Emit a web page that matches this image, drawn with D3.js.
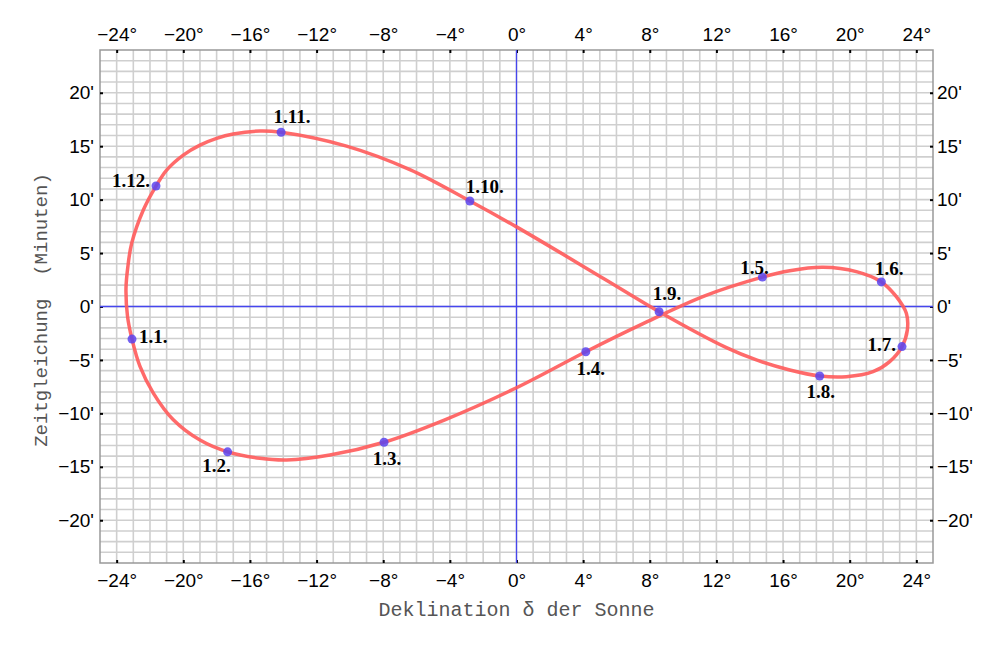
<!DOCTYPE html>
<html>
<head>
<meta charset="utf-8">
<script src="https://cdn.jsdelivr.net/npm/d3@7"></script>
<style>
  body { margin: 0; background: #fff; }
  svg { display: block; }
</style>
</head>
<body>
<svg width="1000" height="649"></svg>
<script>
// analemma, going round from 1 Jan
const curveDecl = [-23.08, -22.6, -21.8, -20.6, -19.0, -17.34, -15.4, -13.8, -11.2, -7.95,
  -4.3, 0, 4.16, 7.6, 11.3, 14.76, 16.4, 18.4, 20.4, 21.9, 22.8, 23.4, 23.46, 23.14,
  22.4, 21.4, 19.8, 18.2, 16.4, 14.4, 12.6, 8.56, 5.3, 0, -2.8, -6.4, -10.2, -14.13,
  -15.4, -17.0, -18.0, -19.0, -20.0, -21.0, -21.64, -22.4, -23.1, -23.33, -23.44, -23.35];
const curveEot = [-3.05, -5.6, -8.1, -10.6, -12.5, -13.6, -14.2, -14.36, -13.9, -12.7,
  -10.6, -7.6, -4.23, -1.6, 1.0, 2.75, 3.35, 3.67, 3.26, 2.3, 0.92, -0.64, -2.2, -3.75,
  -5.16, -6.1, -6.57, -6.5, -5.94, -5.0, -3.85, -0.49, 2.55, 7.45, 9.87, 12.8, 15.0, 16.3,
  16.42, 16.14, 15.73, 15.1, 14.17, 12.77, 11.27, 9.03, 5.9, 3.7, 1.7, -0.9];

const markLabels = ["1.1.", "1.2.", "1.3.", "1.4.", "1.5.", "1.6.", "1.7.", "1.8.", "1.9.", "1.10.", "1.11.", "1.12."];
const markDecl = [-23.08, -17.34, -7.95, 4.16, 14.76, 21.9, 23.14, 18.2, 8.56, -2.8, -14.13, -21.64];
const markEot = [-3.05, -13.6, -12.7, -4.23, 2.75, 2.3, -3.75, -6.5, -0.49, 9.87, 16.3, 11.27];

const xTicks = [-24, -20, -16, -12, -8, -4, 0, 4, 8, 12, 16, 20, 24];
const yTicks = [-20, -15, -10, -5, 0, 5, 10, 15, 20];

// label placement (pixels) around each marker: dx, dy, anchor
const labelPos = [
  [7, 4, "start"], [-11, 20, "middle"], [3, 23, "middle"], [5, 23, "middle"],
  [-8, -3, "middle"], [8, -7, "middle"], [-6, 4, "end"], [1, 22, "middle"],
  [8, -12, "middle"], [15, -8, "middle"], [11, -9, "middle"], [-6, 1, "end"]
];

const svg = d3.select("svg");
const pLeft = 100, pRight = 933, pTop = 50, pBottom = 563;

const x = d3.scaleLinear().domain([-25, 25]).range([pLeft, pRight]);
const y = d3.scaleLinear().domain([-24, 24]).range([pBottom, pTop]);

const fmtDeg = d => (d < 0 ? "\u2212" : "") + Math.abs(d) + "\u00b0";
const fmtMin = d => (d < 0 ? "\u2212" : "") + Math.abs(d) + "'";

// grid, every degree / minute
const grid = svg.append("g");
grid.selectAll("line.v")
  .data(d3.range(-24, 25))
  .join("line")
  .attr("class", "v")
  .attr("x1", d => x(d)).attr("x2", d => x(d))
  .attr("y1", pTop).attr("y2", pBottom)
  .attr("stroke", "#cfcfcf").attr("stroke-width", 1.6);
grid.selectAll("line.h")
  .data(d3.range(-23, 24))
  .join("line")
  .attr("class", "h")
  .attr("y1", d => y(d)).attr("y2", d => y(d))
  .attr("x1", pLeft).attr("x2", pRight)
  .attr("stroke", "#cfcfcf").attr("stroke-width", 1.6);

// frame
svg.append("rect")
  .attr("x", pLeft).attr("y", pTop)
  .attr("width", pRight - pLeft).attr("height", pBottom - pTop)
  .attr("fill", "none").attr("stroke", "#999").attr("stroke-width", 1.5);

function styleAxis(g) {
  g.select(".domain").remove();
  g.selectAll(".tick line").attr("stroke", "#000").attr("stroke-width", 2);
  g.selectAll(".tick text")
    .attr("font-family", "'Liberation Sans', Arial, sans-serif")
    .attr("font-size", 19)
    .attr("fill", "#000");
}

svg.append("g").attr("transform", `translate(0,${pBottom})`)
  .call(d3.axisBottom(x).tickValues(xTicks).tickFormat(fmtDeg).tickSize(-3).tickPadding(11))
  .call(styleAxis);
svg.append("g").attr("transform", `translate(0,${pTop})`)
  .call(d3.axisTop(x).tickValues(xTicks).tickFormat(fmtDeg).tickSize(-3).tickPadding(9))
  .call(styleAxis);
svg.append("g").attr("transform", `translate(${pLeft},0)`)
  .call(d3.axisLeft(y).tickValues(yTicks).tickFormat(fmtMin).tickSize(-3).tickPadding(6))
  .call(styleAxis);
svg.append("g").attr("transform", `translate(${pRight},0)`)
  .call(d3.axisRight(y).tickValues(yTicks).tickFormat(fmtMin).tickSize(-3).tickPadding(4))
  .call(styleAxis);

// zero lines
svg.append("line")
  .attr("x1", x(0)).attr("x2", x(0)).attr("y1", pTop).attr("y2", pBottom)
  .attr("stroke", "#4646ee").attr("stroke-width", 1.3);
svg.append("line")
  .attr("y1", y(0)).attr("y2", y(0)).attr("x1", pLeft).attr("x2", pRight)
  .attr("stroke", "#4646ee").attr("stroke-width", 1.3);

// the figure-eight
const pts = curveDecl.map((d, i) => [d, curveEot[i]]);
const line = d3.line()
  .x(d => x(d[0])).y(d => y(d[1]))
  .curve(d3.curveCatmullRomClosed.alpha(0.5));
svg.append("path")
  .attr("d", line(pts))
  .attr("fill", "none")
  .attr("stroke", "#ff5a5a")
  .attr("stroke-opacity", 0.9)
  .attr("stroke-width", 3.5);

// first-of-month markers
svg.selectAll("circle.m")
  .data(markLabels)
  .join("circle")
  .attr("class", "m")
  .attr("cx", (d, i) => x(markDecl[i]))
  .attr("cy", (d, i) => y(markEot[i]))
  .attr("r", 4.5)
  .attr("fill", "#5a44ee")
  .attr("fill-opacity", 0.85);

svg.selectAll("text.lab")
  .data(markLabels)
  .join("text")
  .attr("class", "lab")
  .attr("x", (d, i) => x(markDecl[i]) + labelPos[i][0])
  .attr("y", (d, i) => y(markEot[i]) + labelPos[i][1])
  .attr("text-anchor", (d, i) => labelPos[i][2])
  .attr("font-family", "'Liberation Serif', 'Times New Roman', serif")
  .attr("font-weight", "bold")
  .attr("font-size", 19)
  .attr("fill", "#000")
  .text(d => d);

// axis titles
svg.append("text")
  .attr("x", (pLeft + pRight) / 2).attr("y", 616)
  .attr("text-anchor", "middle")
  .attr("font-family", "'Liberation Mono', 'Courier New', monospace")
  .attr("font-size", 20)
  .attr("fill", "#555")
  .text("Deklination \u03b4 der Sonne");

svg.append("text")
  .attr("transform", "translate(47,310) rotate(-90)")
  .attr("text-anchor", "middle")
  .attr("font-family", "'Liberation Mono', 'Courier New', monospace")
  .attr("font-size", 19)
  .attr("fill", "#555")
  .style("white-space", "pre")
  .text("Zeitgleichung  (Minuten)");
</script>
</body>
</html>
